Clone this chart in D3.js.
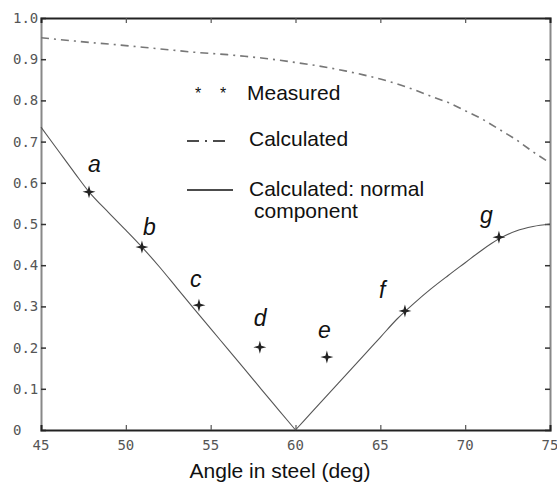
<!DOCTYPE html>
<html><head><meta charset="utf-8">
<script src="https://cdn.jsdelivr.net/npm/d3@7"></script>
<style>body{margin:0;background:#fff}svg{display:block}</style>
</head><body>
<svg id="c" width="557" height="485"></svg>
<script>
// ---- data ----
const xTicks = [45, 50, 55, 60, 65, 70, 75];
const yTicks = [0, 0.1, 0.2, 0.3, 0.4, 0.5, 0.6, 0.7, 0.8, 0.9, 1.0];
const yTickLabels = ["0", "0.1", "0.2", "0.3", "0.4", "0.5", "0.6", "0.7", "0.8", "0.9", "1.0"];

const calcX = [45,46,47,48,49,50,51,52,53,54,55,56,57,58,59,60,61,62,63,64,65,66,67,68,69,70,71,72,73,74,75];
const calcY = [0.952,0.948,0.944,0.940,0.937,0.933,0.929,0.925,0.921,0.917,0.914,0.911,0.907,0.903,0.898,0.892,0.886,0.879,0.871,0.862,0.852,0.840,0.826,0.810,0.795,0.775,0.755,0.730,0.705,0.675,0.648];

const normX = [45,46,47,47.83,49,50,50.95,52,53,54,55,56,57,58,59,60,61,62,63,64,65,66,67,68,69,70,71,72,73,74,75];
const normY = [0.735,0.679,0.623,0.578,0.527,0.485,0.444,0.395,0.345,0.295,0.246,0.197,0.148,0.098,0.049,0.0,0.045,0.09,0.135,0.18,0.225,0.27,0.308,0.343,0.375,0.406,0.437,0.464,0.483,0.494,0.5];

const measLabels = ["a","b","c","d","e","f","g"];
const measX = [47.83, 50.95, 54.31, 57.9, 61.85, 66.45, 71.99];
const measY = [0.578, 0.444, 0.303, 0.201, 0.177, 0.289, 0.468];

const xLabel = "Angle in steel (deg)";
const legendLabels = ["Measured", "Calculated", "Calculated: normal", "component"];

// ---- chart ----
const svg = d3.select("#c");
const x = d3.scaleLinear().domain([45, 75]).range([41, 550]);
const y = d3.scaleLinear().domain([0, 1]).range([430, 18]);
const font = "'Liberation Sans', Arial, sans-serif";

svg.append("rect").attr("width", 557).attr("height", 485).attr("fill", "#fff");

// axes with inward ticks
const gL = svg.append("g").attr("transform", `translate(${x(45)},0)`)
  .call(d3.axisRight(y).tickValues(yTicks.slice(1, -1)).tickSize(5).tickFormat(""));
const gR = svg.append("g").attr("transform", `translate(${x(75)},0)`)
  .call(d3.axisLeft(y).tickValues(yTicks.slice(1, -1)).tickSize(5).tickFormat(""));
const gB = svg.append("g").attr("transform", `translate(0,${y(0)})`)
  .call(d3.axisTop(x).tickValues(xTicks.slice(1, -1)).tickSize(5).tickFormat(""));
const gT = svg.append("g").attr("transform", `translate(0,${y(1)})`)
  .call(d3.axisBottom(x).tickValues(xTicks.slice(1, -1)).tickSize(5).tickFormat(""));
[gL, gR].forEach(g => {
  g.select(".domain").attr("stroke", "#888").attr("stroke-width", 2);
  g.selectAll(".tick line").attr("stroke", "#333").attr("stroke-width", 1.5);
});
[gB, gT].forEach(g => {
  g.select(".domain").attr("stroke", "#222").attr("stroke-width", 2);
  g.selectAll(".tick line").attr("stroke", "#555").attr("stroke-width", 1.2);
});

// tick labels
svg.append("g").selectAll("text").data(yTicks).join("text")
  .attr("x", 13).attr("y", d => y(d)).attr("dy", "0.36em")
  .attr("font-family", "'DejaVu Sans Mono', monospace").attr("font-size", 14)
  .attr("fill", "#555").text((d, i) => yTickLabels[i]);
svg.append("g").selectAll("text").data(xTicks).join("text")
  .attr("x", d => x(d)).attr("y", 445).attr("dy", "0.36em").attr("text-anchor", "middle")
  .attr("font-family", "'DejaVu Sans Mono', monospace").attr("font-size", 14)
  .attr("fill", "#555").text(d => d);

svg.append("text").attr("x", 280).attr("y", 478).attr("text-anchor", "middle")
  .attr("font-family", font).attr("font-size", 21).attr("fill", "#111").text(xLabel);

// lines
const line = d3.line().x(d => x(d[0])).y(d => y(d[1]));
svg.append("path").datum(calcX.map((v, i) => [v, calcY[i]]))
  .attr("d", line).attr("fill", "none").attr("stroke", "#777").attr("stroke-width", 1.6)
  .attr("stroke-dasharray", "8,5,2,5");
const normPts = normX.map((v, i) => [v, normY[i]]);
const smooth = d3.line().curve(d3.curveMonotoneX).x(d => x(d[0])).y(d => y(d[1]));
[normPts.filter(d => d[0] <= 60), normPts.filter(d => d[0] >= 60)].forEach(seg => {
  svg.append("path").datum(seg).attr("d", smooth)
    .attr("fill", "none").attr("stroke", "#555").attr("stroke-width", 1.1);
});

// measured markers (4-point star)
const star4 = {
  draw(ctx, size) {
    const r = Math.sqrt(size), w = r * 0.22;
    ctx.moveTo(0, -r); ctx.lineTo(w, -w); ctx.lineTo(r, 0); ctx.lineTo(w, w);
    ctx.lineTo(0, r); ctx.lineTo(-w, w); ctx.lineTo(-r, 0); ctx.lineTo(-w, -w); ctx.closePath();
  }
};
svg.append("g").selectAll("path").data(measX).join("path")
  .attr("transform", (d, i) => `translate(${x(d)},${y(measY[i])})`)
  .attr("d", d3.symbol().type(star4).size(42)).attr("fill", "#222");

// point letters
const letterOff = [[-1, -20], [1, -12], [-9, -18], [-6, -21], [-9, -19], [-26, -13], [-19, -14]];
svg.append("g").selectAll("text").data(measLabels).join("text")
  .attr("x", (d, i) => x(measX[i]) + letterOff[i][0])
  .attr("y", (d, i) => y(measY[i]) + letterOff[i][1])
  .attr("font-family", font).attr("font-style", "italic").attr("font-size", 23)
  .attr("fill", "#111").text(d => d);

// legend
const lg = svg.append("g").attr("font-family", font).attr("font-size", 21).attr("fill", "#111");
lg.append("text").attr("x", 198).attr("y", 99).attr("text-anchor", "middle").attr("font-size", 16).text("*");
lg.append("text").attr("x", 223).attr("y", 99).attr("text-anchor", "middle").attr("font-size", 16).text("*");
lg.append("text").attr("x", 247).attr("y", 100).text(legendLabels[0]);
lg.append("line").attr("x1", 187).attr("x2", 231).attr("y1", 141).attr("y2", 141)
  .attr("stroke", "#111").attr("stroke-width", 1.6).attr("stroke-dasharray", "12,6,2,6");
lg.append("text").attr("x", 249).attr("y", 146).text(legendLabels[1]);
lg.append("line").attr("x1", 187).attr("x2", 233).attr("y1", 190).attr("y2", 190)
  .attr("stroke", "#111").attr("stroke-width", 1.3);
lg.append("text").attr("x", 249).attr("y", 196).text(legendLabels[2]);
lg.append("text").attr("x", 254).attr("y", 218).text(legendLabels[3]);
</script>
</body></html>
